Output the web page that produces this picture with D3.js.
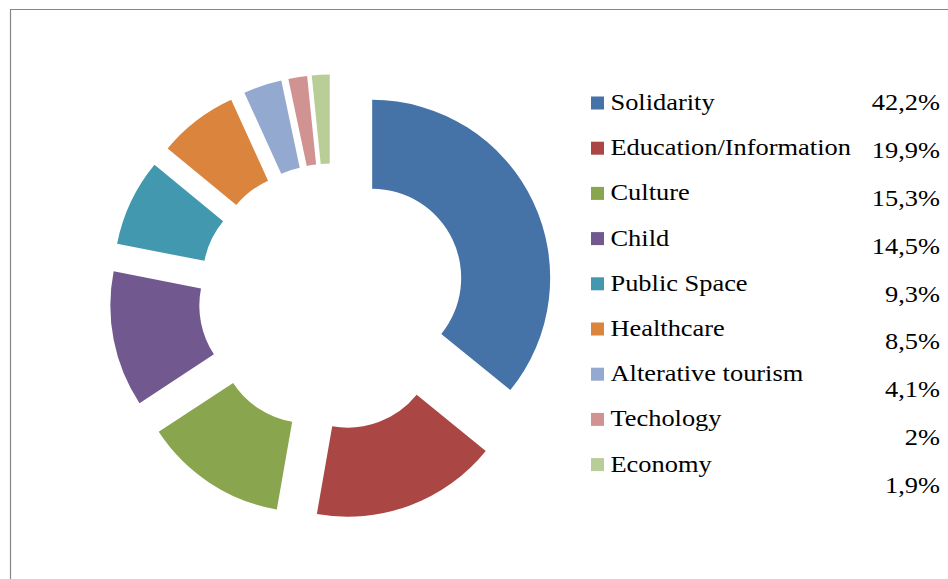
<!DOCTYPE html>
<html>
<head>
<meta charset="utf-8">
<script src="https://cdn.jsdelivr.net/npm/d3@7"></script>
<style>
  html, body { margin: 0; padding: 0; background: #fff; }
  svg { display: block; }
</style>
</head>
<body>
<div class="container"></div>
<script>
const w = 948;
const h = 579;

const categories = ['Solidarity', 'Education/Information', 'Culture', 'Child', 'Public Space',
    'Healthcare', 'Alterative tourism', 'Techology', 'Economy'];
const values = [42.2, 19.9, 15.3, 14.5, 9.3, 8.5, 4.1, 2, 1.9];
const valueLabels = ['42,2%', '19,9%', '15,3%', '14,5%', '9,3%', '8,5%', '4,1%', '2%', '1,9%'];
const colors = ['#4572a7', '#aa4643', '#89a54e', '#71588f', '#4198af',
    '#db843d', '#93a9cf', '#d19392', '#b9cd96'];

const center = { x: 332, y: 297 };
const outerR = 178;
const innerR = 89;
const explode = 44.5;
const serif = "'Liberation Serif', 'Times New Roman', serif";

const svg = d3.select('.container')
    .append('svg')
    .attr('width', w)
    .attr('height', h);

// frame (only top + left visible in the crop)
svg.append('path')
    .attr('d', `M10.5,${h} L10.5,9.5 L${w},9.5`)
    .attr('fill', 'none')
    .attr('stroke', '#868686')
    .attr('stroke-width', 1.2);

const color = d3.scaleOrdinal(categories, colors);

const pie = d3.pie().sort(null).value((d, i) => values[i]);
const arc = d3.arc().innerRadius(innerR).outerRadius(outerR);

svg.append('g')
    .attr('transform', `translate(${center.x},${center.y})`)
    .selectAll('path')
    .data(pie(categories))
    .join('path')
    .attr('transform', d => {
        const a = (d.startAngle + d.endAngle) / 2;
        return `translate(${explode * Math.sin(a)},${-explode * Math.cos(a)})`;
    })
    .attr('fill', d => color(d.data))
    .attr('d', arc);

// legend
const rowY = d3.scalePoint(categories, [110, 471.6]);
const valY = d3.scaleLinear([0, categories.length - 1], [110, 493]);

svg.selectAll('rect.swatch')
    .data(categories)
    .join('rect')
    .attr('class', 'swatch')
    .attr('x', 591)
    .attr('y', d => rowY(d) - 13.5)
    .attr('width', 13)
    .attr('height', 13)
    .attr('fill', d => color(d));

svg.selectAll('text.label')
    .data(categories)
    .join('text')
    .attr('class', 'label')
    .attr('transform', d => `translate(610.5,${rowY(d)}) scale(1.1,1)`)
    .attr('font-family', serif)
    .attr('font-size', 24)
    .style('font-family', serif, 'important')
    .style('font-size', '24px', 'important')
    .text(d => d);

svg.selectAll('text.val')
    .data(valueLabels)
    .join('text')
    .attr('class', 'val')
    .attr('transform', (d, i) => `translate(940,${valY(i)}) scale(1.1,1)`)
    .attr('text-anchor', 'end')
    .attr('font-family', serif)
    .attr('font-size', 24)
    .style('font-family', serif, 'important')
    .style('font-size', '24px', 'important')
    .text(d => d);
</script>
</body>
</html>
